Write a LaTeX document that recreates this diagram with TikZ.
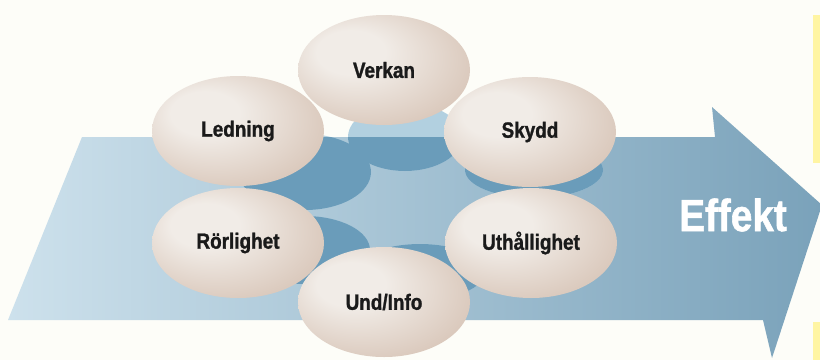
\documentclass[tikz,border=0pt]{standalone}
\usepackage{fontspec}
\usetikzlibrary{shapes.geometric}

\newfontfamily\eggfont[FakeStretch=0.86,BoldFeatures={FakeBold=1.2}]{Liberation Sans}

\definecolor{bgcol}{HTML}{FDFDF8}
\definecolor{arrowleft}{HTML}{CDE1EC}
\definecolor{arrowmid}{HTML}{B2CFDF}
\definecolor{arrowright}{HTML}{7AA2BA}
\definecolor{shadowlight}{HTML}{B2D0E0}
\definecolor{shadowdark}{HTML}{6A9CBA}
\definecolor{egghi}{HTML}{F1ECE7}
\definecolor{eggmid}{HTML}{D9C7BA}
\definecolor{eggedge}{HTML}{A6856F}
\definecolor{eggtext}{HTML}{1A1A1A}
\definecolor{yellowbar}{HTML}{FFF5A3}

\pgfdeclareradialshading{eggshade}{\pgfpoint{-12bp}{10bp}}{%
  color(0bp)=(egghi); color(10bp)=(egghi); color(32bp)=(eggmid); color(50bp)=(eggedge)}

\newcommand{\effektoutline}{(82,137) -- (715,137) -- (712,107) -- (822,205) -- (772,358) -- (763,320) -- (8,320) -- cycle}

\begin{document}
\begin{tikzpicture}[x=1pt,y=-1pt]
            \useasboundingbox[fill=bgcol] (0,0) rectangle (820,360);
            % big arrow
            \shade[left color=arrowleft, middle color=arrowmid, right color=arrowright] \effektoutline;
            % shadows under the eggs
            \foreach \sx/\sy/\rx/\ry in {405/137/57/34, 305/172/66/38, 534/170/69/28, 305/250/65/34, 420/272/65/28}
                \fill[shadowlight] (\sx,\sy) ellipse [x radius=\rx pt, y radius=\ry pt];
            \begin{scope}
                \clip \effektoutline;
                \foreach \sx/\sy/\rx/\ry in {405/137/57/34, 305/172/66/38, 534/170/69/28, 305/250/65/34, 420/272/65/28}
                    \fill[shadowdark] (\sx,\sy) ellipse [x radius=\rx pt, y radius=\ry pt];
            \end{scope}
            \begin{scope}[every node/.style={ellipse,shade,shading=eggshade,minimum width=172pt,minimum height=110pt,inner sep=0pt,text=eggtext,font=\eggfont\bfseries\fontsize{22}{22}\selectfont}]
                \node (verkan) at (384,70) {Verkan};
                \node (ledning) at (238,131) {Ledning};
                \node (skydd) at (530,132) {Skydd};
                \node (rorlighet) at (238,243) {Rörlighet};
                \node (uthallighet) at (531,243) {Uthållighet};
                \node (undinfo) at (384,302) {Und/Info};
            \end{scope}
            \node[text=white, font=\eggfont\bfseries\fontsize{45}{45}\selectfont] (effekt) at (733,215) {Effekt};
            % yellow edges at the right
            \fill[yellowbar] (813,15) rectangle (820,163);
            \fill[yellowbar] (813,322) rectangle (820,360);
        \end{tikzpicture}
\end{document}
